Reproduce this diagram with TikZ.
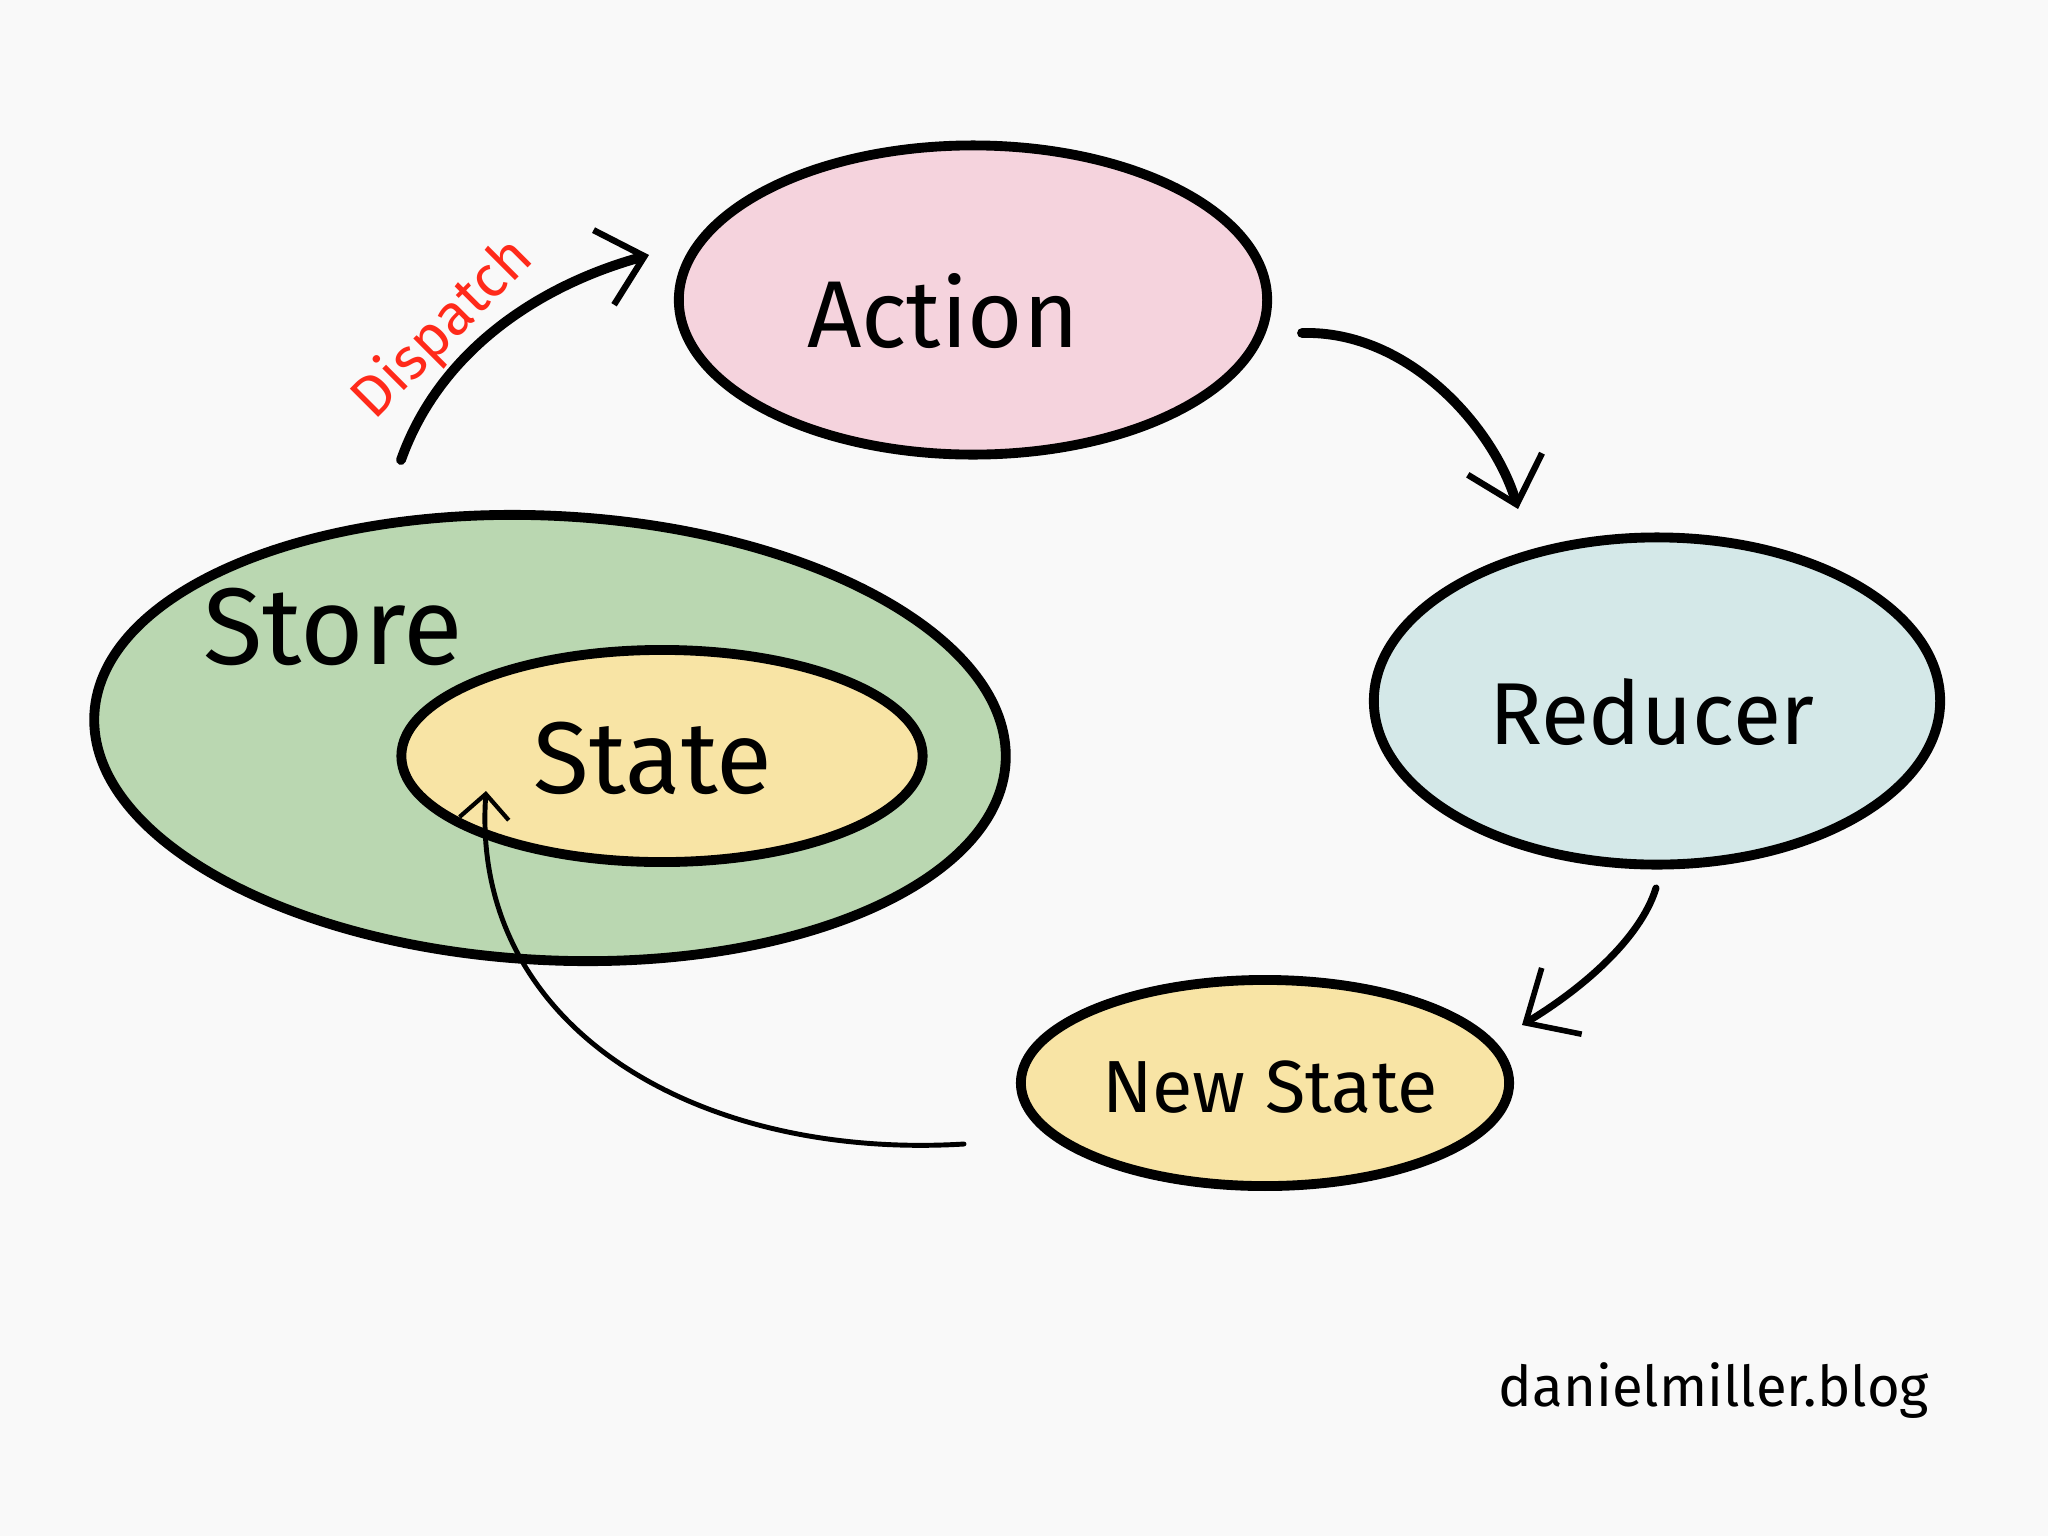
\documentclass[tikz,border=0pt]{standalone}
\usepackage{fontspec}
\setmainfont{Fira Sans}
\usetikzlibrary{shapes.geometric,arrows.meta}
\definecolor{bg}{HTML}{F9F9F9}
\definecolor{actionfill}{HTML}{F5D3DD}
\definecolor{storefill}{HTML}{BAD7B1}
\definecolor{statefill}{HTML}{F8E4A5}
\definecolor{reducerfill}{HTML}{D4E8E8}
\definecolor{dispred}{HTML}{FF2A1A}
\tikzset{
  blob/.style={ellipse, draw=black, line width=2.8pt, inner sep=0pt},
  lbl/.style={inner sep=0pt, text=black},
  flow/.style={line width=2.8pt, line cap=round, -{Straight Barb[length=12pt,width=22pt,line width=1.8pt]}},
  midflow/.style={line width=2pt, line cap=round, -{Straight Barb[length=12pt,width=22pt,line width=1.6pt]}},
  thinflow/.style={line width=1.4pt, line cap=round, -{Straight Barb[length=7pt,width=14pt,line width=1.2pt]}},
}
\begin{document}
\begin{tikzpicture}[x=0.01cm,y=-0.01cm]
\fill[bg] (0,0) rectangle (2048,1536);
\useasboundingbox (0,0) rectangle (2048,1536);

% Store and State
\node[blob, fill=storefill, minimum width=9.12cm, minimum height=4.44cm, rotate=-3] (store) at (550,738) {};
\node[blob, fill=statefill, minimum width=5.21cm, minimum height=2.12cm] (state) at (662,756) {};
\node[lbl, font=\fontsize{31}{36}\selectfont] (storetxt) at (333,627) {Store};
\node[lbl, font=\fontsize{29}{34}\selectfont] (statetxt) at (653,758) {State};

% Action
\node[blob, fill=actionfill, minimum width=5.88cm, minimum height=3.09cm] (action) at (973,300) {};
\node[lbl, font=\fontsize{27}{32}\selectfont] (actiontxt) at (943,311) {Action};

% Reducer
\node[blob, fill=reducerfill, minimum width=5.66cm, minimum height=3.27cm] (reducer) at (1657,701) {};
\node[lbl, font=\fontsize{25}{30}\selectfont] (reducertxt) at (1652,712) {Reducer};

% New State
\node[blob, fill=statefill, minimum width=4.88cm, minimum height=2.06cm] (newstate) at (1265,1083) {};
\node[lbl, font=\fontsize{21}{26}\selectfont] (newstatetxt) at (1270,1087) {New State};

% connector end points
\coordinate (d0) at (401,460);
\coordinate (d1) at (649,255);
\coordinate (a0) at (1302,333);
\coordinate (a1) at (1518,509);
\coordinate (r0) at (1656,888);
\coordinate (r1) at (1522,1025);
\coordinate (n0) at (964,1144);
\coordinate (n1) at (486,791);

\draw[flow] (d0) .. controls (440,350) and (540,285) .. (d1);
\draw[flow] (a0) .. controls (1410,330) and (1495,430) .. (a1);
\draw[midflow] (r0) .. controls (1640,940) and (1580,990) .. (r1);
\draw[thinflow] (n0) .. controls (700,1160) and (470,1030) .. (n1);

\node[lbl, text=dispred, font=\fontsize{16.5}{20}\selectfont, rotate=45, anchor=south] (dispatch) at (464,350) {Dispatch};

\node[lbl, font=\fontsize{16}{20}\selectfont] (blog) at (1714,1391) {danielmiller.blog};
\end{tikzpicture}
\end{document}
